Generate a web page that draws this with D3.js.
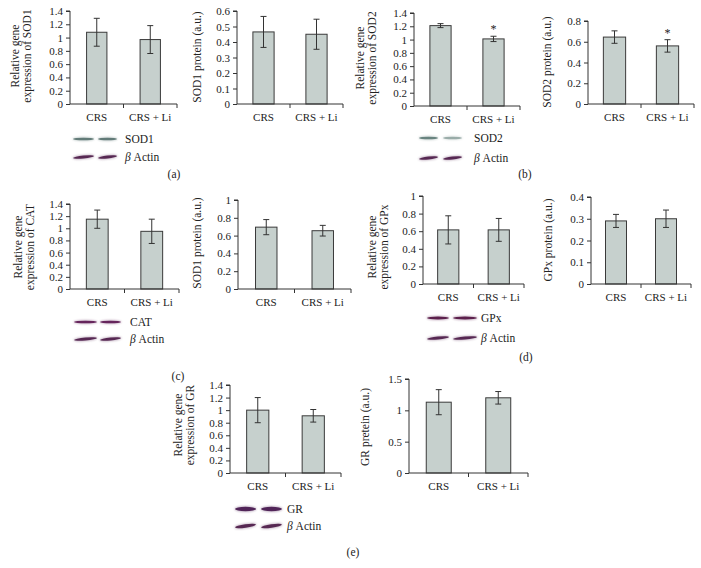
<!DOCTYPE html>
<html><head><meta charset="utf-8">
<script src="https://cdn.jsdelivr.net/npm/d3@7"></script>
<style>
html,body{margin:0;padding:0;background:#fff;}
text{font-family:"Liberation Serif","DejaVu Serif",serif;fill:#222;}
</style></head>
<body>
<svg id="chart" width="701" height="568"></svg>
<script>
// ---- data ----
const categories = ["CRS", "CRS + Li"];
const sod1Gene = [1.08, 0.97],   sod1GeneErr = [0.21, 0.21];
const sod1Prot = [0.465, 0.45],  sod1ProtErr = [0.10, 0.097];
const sod2Gene = [1.21, 1.01],   sod2GeneErr = [0.03, 0.04];
const sod2Prot = [0.645, 0.56],  sod2ProtErr = [0.06, 0.06];
const catGene  = [1.15, 0.95],   catGeneErr  = [0.15, 0.20];
const catProt  = [0.695, 0.655], catProtErr  = [0.085, 0.06];
const gpxGene  = [0.615, 0.615], gpxGeneErr  = [0.16, 0.13];
const gpxProt  = [0.29, 0.30],   gpxProtErr  = [0.03, 0.04];
const grGene   = [1.0, 0.91],    grGeneErr   = [0.2, 0.1];
const grProt   = [1.13, 1.2],    grProtErr   = [0.2, 0.1];
const tickSets = {
  g14: [0, 0.2, 0.4, 0.6, 0.8, 1, 1.2, 1.4],
  p06: [0, 0.1, 0.2, 0.3, 0.4, 0.5, 0.6],
  p08: [0, 0.2, 0.4, 0.6, 0.8],
  p10: [0, 0.2, 0.4, 0.6, 0.8, 1],
  p04: [0, 0.1, 0.2, 0.3, 0.4],
  p15: [0, 0.5, 1, 1.5]
};
const panelLetters = ["(a)", "(b)", "(c)", "(d)", "(e)"];

// ---- layout ----
const panels = [
  {v: sod1Gene, e: sod1GeneErr, max: 1.4, ticks: tickSets.g14, x0: 70, x1: 177, yT: 11, yB: 104, pad: 0.62,
   label: ["Relative gene", "expression of SOD1"], lx: 19, ly: 56},
  {v: sod1Prot, e: sod1ProtErr, max: 0.6, ticks: tickSets.p06, x0: 237, x1: 343, yT: 11, yB: 104, pad: 0.6,
   label: ["SOD1 protein (a.u.)"], lx: 201, ly: 57},
  {v: sod2Gene, e: sod2GeneErr, max: 1.4, ticks: tickSets.g14, x0: 414, x1: 520, yT: 13, yB: 106, pad: 0.6,
   label: ["Relative gene", "expression of SOD2"], lx: 364, ly: 58, star: [false, true]},
  {v: sod2Prot, e: sod2ProtErr, max: 0.8, ticks: tickSets.p08, x0: 588, x1: 694, yT: 21, yB: 104, pad: 0.58,
   label: ["SOD2 protein (a.u.)"], lx: 551, ly: 62, star: [false, true]},
  {v: catGene, e: catGeneErr, max: 1.4, ticks: tickSets.g14, x0: 70, x1: 179, yT: 204, yB: 289, pad: 0.6,
   label: ["Relative gene", "expression of CAT"], lx: 22, ly: 247},
  {v: catProt, e: catProtErr, max: 1.0, ticks: tickSets.p10, x0: 238, x1: 351, yT: 200, yB: 289, pad: 0.62,
   label: ["SOD1 protein (a.u.)"], lx: 201, ly: 243},
  {v: gpxGene, e: gpxGeneErr, max: 1.0, ticks: tickSets.p10, x0: 423, x1: 524, yT: 196, yB: 284, pad: 0.58,
   label: ["Relative gene", "expression of GPx"], lx: 376, ly: 247},
  {v: gpxProt, e: gpxProtErr, max: 0.4, ticks: tickSets.p04, x0: 591, x1: 691, yT: 197, yB: 284, pad: 0.58,
   label: ["GPx protein (a.u.)"], lx: 552, ly: 240},
  {v: grGene, e: grGeneErr, max: 1.4, ticks: tickSets.g14, x0: 230, x1: 341, yT: 385, yB: 473, pad: 0.6,
   label: ["Relative gene", "expression of GR"], lx: 182, ly: 425},
  {v: grProt, e: grProtErr, max: 1.5, ticks: tickSets.p15, x0: 409, x1: 528, yT: 379, yB: 473, pad: 0.58,
   label: ["GR pretein (a.u.)"], lx: 369, ly: 427}
];

const blots = [
  {x: [73, 98], w: [21, 19], rows: [
    {y: 139, name: "SOD1", col: "#56716e", h: 2.6, tilt: 0},
    {y: 157, name: "β Actin", col: "#4a1846", h: 3, tilt: -2}], tx: 125},
  {x: [419, 443], w: [19, 19], rows: [
    {y: 138, name: "SOD2", col: "#5d7a75", h: 2.6, tilt: 0, fade: [1, 0.6]},
    {y: 158, name: "β Actin", col: "#4a1846", h: 3, tilt: -2}], tx: 474},
  {x: [74, 100], w: [23, 21], rows: [
    {y: 322, name: "CAT", col: "#5a1550", h: 2.6, tilt: 0},
    {y: 339, name: "β Actin", col: "#4a1846", h: 3, tilt: -2}], tx: 130},
  {x: [427, 453], w: [22, 24], rows: [
    {y: 318, name: "GPx", col: "#50103f", h: 3, tilt: 0},
    {y: 338, name: "β Actin", col: "#4a1846", h: 3, tilt: -2}], tx: 481},
  {x: [235, 261], w: [21, 21], rows: [
    {y: 509, name: "GR", col: "#45154c", h: 4.5, tilt: 0},
    {y: 526, name: "β Actin", col: "#4a1846", h: 3.5, tilt: -3}], tx: 287}
];
const letterPos = [[174, 178], [525, 178], [178, 380], [526, 361], [353, 556]];

const svg = d3.select("#chart");
const defs = svg.append("defs");
defs.append("filter").attr("id", "blur").attr("x", "-30%").attr("y", "-200%").attr("width", "160%").attr("height", "500%")
  .append("feGaussianBlur").attr("stdDeviation", 0.8);

const fmt = d => d3.format("~g")(d);

panels.forEach(p => {
  const g = svg.append("g");
  const y = d3.scaleLinear().domain([0, p.max]).range([p.yB, p.yT]);
  const x = d3.scaleBand().domain(categories).range([p.x0, p.x1]).paddingInner(p.pad).paddingOuter(p.pad / 2);
  const xb = d3.scaleBand().domain(categories).range([p.x0, p.x1]);

  const ya = g.append("g").attr("transform", `translate(${p.x0},0)`)
    .call(d3.axisLeft(y).tickValues(p.ticks).tickFormat(fmt).tickSize(4).tickPadding(3));
  ya.attr("font-family", null);
  ya.select(".domain").attr("stroke", "#333").attr("d", `M-4,${p.yT}H0V${p.yB}`);
  ya.selectAll(".tick line").attr("stroke", "#333");
  ya.selectAll(".tick text").attr("font-size", 11).attr("fill", "#222");

  g.selectAll("rect.bar").data(p.v).join("rect")
    .attr("x", (d, i) => x(categories[i])).attr("width", x.bandwidth())
    .attr("y", d => y(d)).attr("height", d => p.yB - y(d))
    .attr("fill", "#c6d0cd").attr("stroke", "#3a3a3a").attr("stroke-width", 1);

  p.v.forEach((d, i) => {
    const cx = x(categories[i]) + x.bandwidth() / 2;
    const top = y(d + p.e[i]), bot = y(d - p.e[i]);
    g.append("line").attr("x1", cx).attr("x2", cx).attr("y1", top).attr("y2", bot).attr("stroke", "#333");
    [top, bot].forEach(yy => g.append("line").attr("x1", cx - 3).attr("x2", cx + 3).attr("y1", yy).attr("y2", yy).attr("stroke", "#333"));
    if (p.star && p.star[i]) {
      g.append("text").attr("x", cx).attr("y", top - 3).attr("text-anchor", "middle").attr("font-size", 12).text("*");
    }
  });

  const xa = g.append("g").attr("transform", `translate(0,${p.yB})`)
    .call(d3.axisBottom(xb).tickSize(0).tickPadding(9));
  xa.attr("font-family", null);
  xa.select(".domain").attr("stroke", "#333").attr("d", `M${p.x0},0H${p.x1}`);
  xa.selectAll(".tick text").attr("font-size", 11).attr("fill", "#222");
  [xb(categories[1]), p.x1].forEach(tx => g.append("line").attr("x1", tx).attr("x2", tx).attr("y1", p.yB).attr("y2", p.yB + 4).attr("stroke", "#333"));

  const lab = g.append("text").attr("transform", `translate(${p.lx},${p.ly}) rotate(-90)`)
    .attr("text-anchor", "middle").attr("font-size", 11.5);
  p.label.forEach((t, i) => lab.append("tspan").attr("x", 0).attr("dy", i === 0 ? 0 : 12).text(t));
});

// blots
blots.forEach(b => {
  const g = svg.append("g");
  b.rows.forEach(r => {
    b.x.forEach((bx, i) => {
      const w = b.w[i];
      const op = r.fade ? r.fade[i] : 1;
      const cx = bx + w / 2, ang = Math.atan2(r.tilt, w) * 180 / Math.PI;
      const tr = `translate(${cx},${r.y}) rotate(${ang})`;
      g.append("ellipse").attr("transform", tr).attr("rx", w / 2 + 0.5).attr("ry", r.h / 2 + 0.6)
        .attr("fill", r.col).attr("opacity", 0.35 * op).attr("filter", "url(#blur)");
      g.append("ellipse").attr("transform", tr).attr("rx", w / 2).attr("ry", r.h / 2)
        .attr("fill", r.col).attr("opacity", 0.9 * op);
    });
    const t = g.append("text").attr("x", b.tx).attr("y", r.y + 4).attr("font-size", 11.5);
    if (r.name.startsWith("β")) {
      t.append("tspan").attr("font-style", "italic").text("β");
      t.append("tspan").text(" Actin");
    } else t.text(r.name);
  });
});

panelLetters.forEach((l, i) => {
  svg.append("text").attr("x", letterPos[i][0]).attr("y", letterPos[i][1])
    .attr("text-anchor", "middle").attr("font-size", 11.5).text(l);
});
</script>
</body></html>
